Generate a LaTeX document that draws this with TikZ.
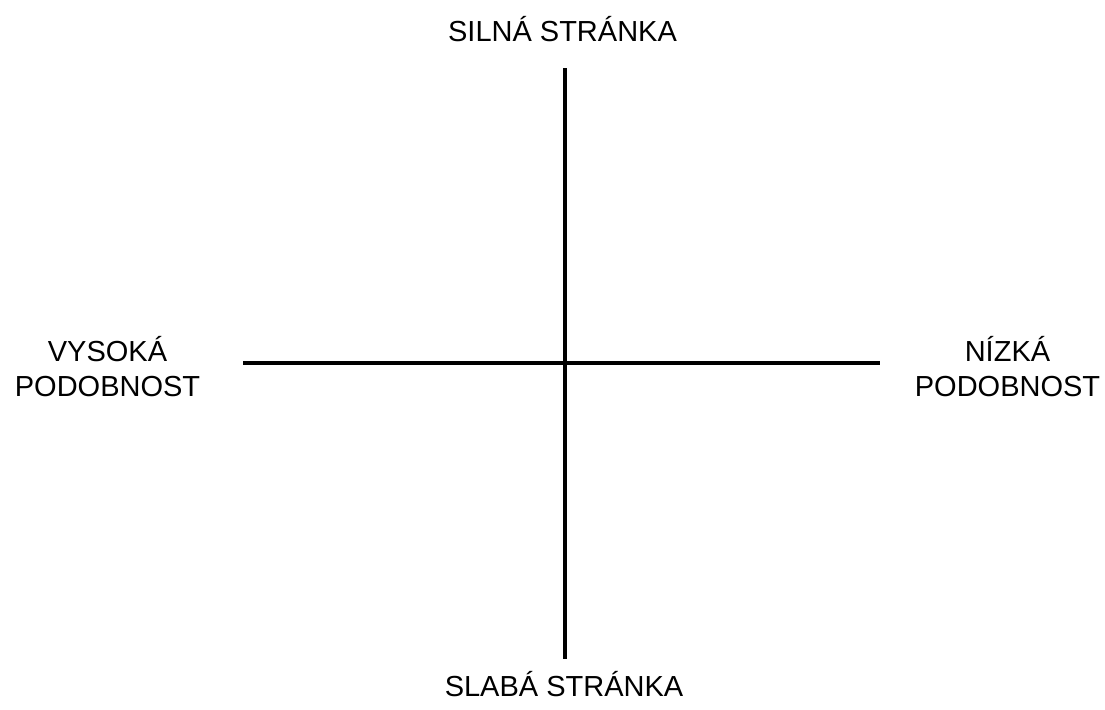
\documentclass[tikz,border=0pt]{standalone}
\usepackage{fontspec}
\setmainfont{Liberation Sans}
\begin{document}
\begin{tikzpicture}[line cap=butt,line join=round,
    axis/.style={line width=2.3pt},
    lbl/.style={font=\fontsize{16.5}{20}\selectfont,inner sep=0pt,align=center}]
  \useasboundingbox (0,0) rectangle (22.1,14.2);
  \coordinate (top) at (11.30,12.84);
  \coordinate (bottom) at (11.30,1.02);
  \coordinate (left) at (4.86,6.94);
  \coordinate (right) at (17.60,6.94);
  \draw[axis] (bottom) -- (top);
  \draw[axis] (left) -- (right);
  \node[lbl,anchor=base] (silna) at (11.25,13.36) {SILNÁ STRÁNKA};
  \node[lbl,anchor=base] (slaba) at (11.28,0.26) {SLABÁ STRÁNKA};
  \node[lbl] (vysoka) at (2.15,6.86) {VYSOKÁ\\PODOBNOST};
  \node[lbl] (nizka) at (20.15,6.86) {NÍZKÁ\\PODOBNOST};
\end{tikzpicture}
\end{document}
